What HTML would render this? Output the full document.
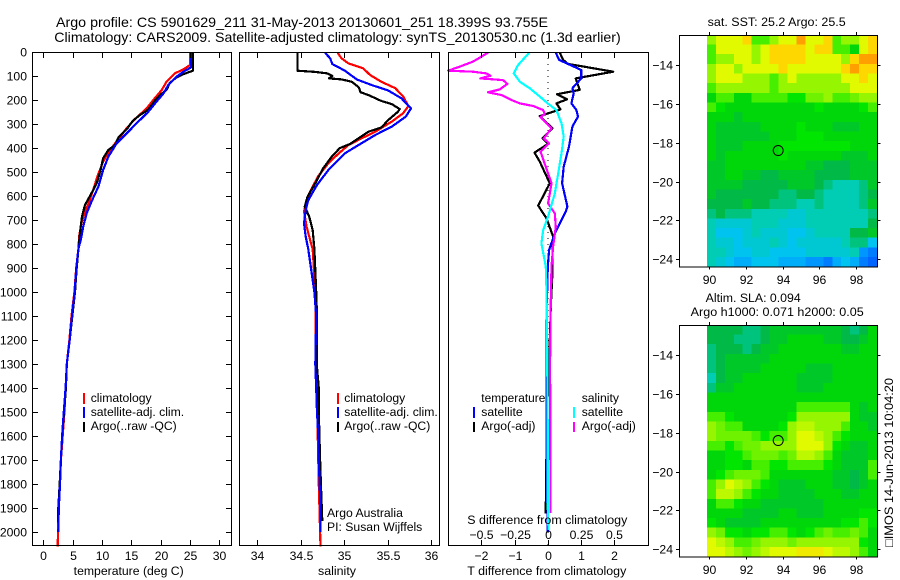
<!DOCTYPE html>
<html lang="en">
<head>
<meta charset="utf-8">
<title>Argo profile chart</title>
<style>
html,body{margin:0;padding:0;background:#fff;}
svg{display:block;}
text{font-family:"Liberation Sans",sans-serif;font-size:12.2px;fill:#000;}
.t14{font-size:14px;}
</style>
</head>
<body>
<svg id="chart" xmlns="http://www.w3.org/2000/svg" width="900" height="580" viewBox="0 0 900 580">
<defs>
<clipPath id="clip-sst"><rect x="707" y="35" width="170.5" height="231.5"/></clipPath>
<clipPath id="clip-sla"><rect x="707" y="325" width="170.5" height="231.5"/></clipPath>
</defs>
<rect width="900" height="580" fill="#fff"/>
<text class="t14" x="56" y="27" textLength="492" lengthAdjust="spacingAndGlyphs">Argo profile: CS 5901629_211 31-May-2013 20130601_251 18.399S 93.755E</text>
<text class="t14" x="54.3" y="42" textLength="566.4" lengthAdjust="spacingAndGlyphs">Climatology: CARS2009. Satellite-adjusted climatology: synTS_20130530.nc (1.3d earlier)</text>

<g id="heat-sst" clip-path="url(#clip-sst)"></g>
<g id="heat-sla" clip-path="url(#clip-sla)"></g>
<g id="marks"></g>
<g id="axes"></g>

<text x="73.7" y="575" textLength="110" lengthAdjust="spacingAndGlyphs">temperature (deg C)</text>
<text x="318" y="575" textLength="38" lengthAdjust="spacingAndGlyphs">salinity</text>
<text x="467.3" y="575" textLength="159" lengthAdjust="spacingAndGlyphs">T difference from climatology</text>
<text x="467.3" y="524" textLength="160" lengthAdjust="spacingAndGlyphs">S difference from climatology</text>

<g>
<rect x="83" y="393" width="2" height="11" fill="#f00"/>
<rect x="83" y="407" width="2" height="11" fill="#00f"/>
<rect x="83" y="422" width="2" height="10" fill="#000"/>
<text x="90.7" y="402">climatology</text>
<text x="90.7" y="416">satellite-adj. clim.</text>
<text x="90.7" y="430">Argo(..raw -QC)</text>
</g>
<g>
<rect x="337" y="393" width="2" height="11" fill="#f00"/>
<rect x="337" y="407" width="2" height="11" fill="#00f"/>
<rect x="337" y="422" width="2" height="10" fill="#000"/>
<text x="344.3" y="402">climatology</text>
<text x="344.3" y="416">satellite-adj. clim.</text>
<text x="344.3" y="430">Argo(..raw -QC)</text>
<text x="327" y="517">Argo Australia</text>
<text x="327" y="531">PI: Susan Wijffels</text>
</g>
<g>
<text x="481.3" y="402" textLength="64" lengthAdjust="spacingAndGlyphs">temperature</text>
<rect x="473" y="407" width="2" height="11" fill="#00f"/>
<rect x="473" y="422" width="2" height="10" fill="#000"/>
<text x="481.3" y="416">satellite</text>
<text x="481.3" y="430">Argo(-adj)</text>
<text x="581.7" y="402">salinity</text>
<rect x="573" y="407" width="2" height="11" fill="#0ff"/>
<rect x="573" y="422" width="2" height="10" fill="#f0f"/>
<text x="581.7" y="416">satellite</text>
<text x="581.7" y="430">Argo(-adj)</text>
</g>

<text x="707.7" y="26" textLength="138" lengthAdjust="spacingAndGlyphs">sat. SST: 25.2 Argo: 25.5</text>
<text x="705.7" y="302" textLength="95" lengthAdjust="spacingAndGlyphs">Altim. SLA: 0.094</text>
<text x="690.7" y="316" textLength="173" lengthAdjust="spacingAndGlyphs">Argo h1000: 0.071 h2000: 0.05</text>
<text transform="translate(893 547) rotate(-90)" x="0" y="0" textLength="169" lengthAdjust="spacingAndGlyphs" style="font-family:'Liberation Sans','DejaVu Sans',sans-serif">□IMOS 14-Jun-2013 10:04:20</text>

<circle id="marker-sst" r="5" fill="none" stroke="#000" stroke-width="1"/>
<circle id="marker-sla" r="5" fill="none" stroke="#000" stroke-width="1"/>
</svg>

<script>
// Axis tick data
const depthTicks = [0,100,200,300,400,500,600,700,800,900,1000,1100,1200,1300,1400,1500,1600,1700,1800,1900,2000];
const tempTicks = [0,5,10,15,20,25,30];
const salTicks = [34,34.5,35,35.5,36];
const tDiffTicks = [-2,-1,0,1,2];
const sDiffTickLabels = ['−0.5','−0.25','0','0.25','0.5'];
const lonTicks = [90,92,94,96,98];
const latTicks = [-14,-16,-18,-20,-22,-24];

// Temperature panel
const climTempDepth = [0,54,72,89,124,158,200,235,280,318,353,408,457,519,575,631,665,714,769,818,900,1000,1100,1200,1300,1400,1500,1600,1700,1800,1900,2000,2060];
const climTempValue = [25.0,25.0,23.9,22.4,21.0,20.2,18.75,17.6,15.6,14.2,13.1,11.4,10.2,9.2,8.5,7.7,7.1,6.5,6.1,6.0,5.6,5.3,4.8,4.45,4.0,3.8,3.6,3.3,3.0,2.85,2.65,2.5,2.45];
const argoTempDepth = [0,78,92,106,128,158,179,203,239,262,286,322,356,388,408,443,499,547,589,637,686,742,818,900,1000,1100,1200,1300,1400,1500,1600,1700,1800,1900,1960];
const argoTempValue = [25.5,25.5,23.9,22.7,21.6,21.0,19.9,19.0,17.9,16.5,15.3,14.2,12.8,12.2,11.1,10.2,9.7,9.1,8.2,7.1,6.6,6.3,6.0,5.7,5.4,4.95,4.5,4.0,3.85,3.55,3.2,3.0,2.8,2.55,2.5];
const satTempDepth = [0,64,82,103,137,172,207,249,297,339,381,436,492,561,624,672,728,783,818,900,1000,1100,1200,1300,1400,1500,1600,1700,1800,1900,2000];
const satTempValue = [25.2,25.2,23.9,22.7,21.3,20.5,19.3,17.9,15.9,14.2,12.5,11.1,10.2,9.4,8.2,7.4,6.8,6.4,6.0,5.63,5.35,4.9,4.5,4.0,3.8,3.5,3.2,3.0,2.85,2.65,2.55];

// Salinity panel
const climSalDepth = [3,26,47,68,96,124,151,186,225,255,290,332,360,388,429,464,519,582,631,665,728,783,822,1000,1300,1800,2060];
const climSalValue = [34.927,34.97,35.05,35.22,35.3,35.43,35.59,35.68,35.74,35.68,35.55,35.36,35.2,35.05,34.92,34.82,34.70,34.61,34.56,34.54,34.57,34.61,34.64,34.67,34.68,34.71,34.73];
const argoSalDepth = [3,78,83,89,100,110,114,124,147,168,179,204,217,238,249,283,314,332,360,383,401,436,485,547,603,644,686,742,822,1000,1100,1300,1400,1500,1700,1800,1955];
const argoSalValue = [34.464,34.464,34.667,34.81,34.866,34.828,34.973,35.09,35.17,35.19,35.28,35.43,35.55,35.64,35.62,35.51,35.43,35.28,35.165,35.07,34.95,34.86,34.76,34.67,34.58,34.55,34.6,34.64,34.66,34.68,34.69,34.686,34.71,34.71,34.725,34.735,34.75];
const satSalDepth = [3,26,50,78,114,138,161,193,235,269,311,346,388,422,492,554,617,658,714,769,822,1000,1100,1300,1400,1500,1600,1700,1800,1900,2000];
const satSalValue = [34.78,34.84,34.866,35.01,35.146,35.32,35.51,35.66,35.77,35.71,35.55,35.36,35.165,35.01,34.82,34.69,34.59,34.56,34.54,34.56,34.59,34.66,34.68,34.67,34.68,34.69,34.705,34.71,34.72,34.73,34.73];

// Difference panel: temperature differences in deg C, salinity differences in psu
const argoDTDepth = [3,33,50,58,82,110,158,176,197,214,239,267,318,360,383,419,457,547,640,693,769,825,922,1061,1200,1408,1644,1894,1922];
const argoDTValue = [0.36,0.46,0.61,0.96,1.97,0.84,0.96,0.28,0.58,0.26,0.38,-0.24,0.14,-0.16,0.01,-0.40,-0.24,0.06,-0.29,-0.04,0.16,0.14,0.14,0.09,0.06,0.0,-0.04,-0.06,-0.06];
const satDTDepth = [3,33,50,75,110,151,172,214,242,269,311,394,478,547,644,665,756,825,894,1100,1650,2000];
const satDTValue = [0.24,0.34,0.61,1.01,1.01,0.74,0.78,0.71,0.86,0.91,0.74,0.64,0.48,0.43,0.59,0.54,0.21,0.04,0.0,-0.04,-0.04,0.0];
const argoDSDepth = [3,40,61,78,82,89,99,110,117,133,156,168,179,200,214,225,242,258,272,318,360,381,415,506,547,631,672,728,811,894,1100,1300,1920];
const argoDSValue = [-0.45,-0.563,-0.663,-0.75,-0.563,-0.462,-0.432,-0.508,-0.337,-0.304,-0.362,-0.45,-0.35,-0.274,-0.21,-0.11,-0.035,-0.023,-0.055,0.028,-0.03,0.01,-0.055,0.0025,0.028,0.0025,0.053,0.06,0.04,0.028,0.02,0.017,0.02];
const satDSDepth = [3,54,89,124,151,186,214,242,297,353,422,506,589,686,742,797,894,992,1200,1617,1900,1992];
const satDSValue = [-0.14,-0.224,-0.256,-0.21,-0.136,-0.06,0.0,0.065,0.103,0.12,0.103,0.078,0.053,0.0025,-0.035,-0.048,-0.015,-0.01,-0.005,0.0,0.0,0.005];

// Satellite SST, colour-scale units (0 = coolest, 10 = warmest); rows north to south
const sstRows = [
[7,8,8,8,9,6,6,7,8,8,10,8,8,9,6,7,7,8,9],
[6,8,8,8,8,7,8,9,9,9,9,8,9,9,6,6,5,8,9],
[6,7,7,8,8,7,8,9,9,9,9,8,8,8,8,7,9,10,10],
[7,8,8,7,8,8,8,8,9,8,8,8,8,8,8,9,10,9,9],
[7,8,8,8,7,7,7,6,7,8,7,7,7,7,7,8,8,9,8],
[6,7,7,7,7,7,7,6,7,7,7,7,7,7,7,7,8,8,8],
[5,6,6,5,5,6,6,6,6,5.5,5.5,6.5,6.5,7,6,6,6.5,7,7],
[6,5.5,5,5,5,5,5,5,5,5,5,5,5.5,5,5,5,5,5.5,6],
[5,5,5,4.5,5,5,5,5,5,5,5,5,5,5,5,5,5,5,5],
[5,4.5,4.5,4.5,4.5,4.5,5,5,5,5,5.5,5,5,5,4.5,4.5,4.5,5,5],
[5,4.5,4.5,4.5,4.5,4.5,4.5,5,5,5,5.5,5.5,5.5,5,5,5,5,5,5],
[5,4.5,4.5,4.5,5,5,5,5,5.5,5.5,5.5,5.5,5.5,5.5,5.5,5.5,5,5,5],
[5,4.5,5,5,5,5,5,5,5.5,5,5,5,5,5,5,4.5,4.5,4.5,5],
[4.5,4.5,5,5,5,5,5,5,5,5,5,4.5,4.5,4,4,4,4.5,4.5,4.5],
[4.5,4.5,5,5,4.5,4.5,4,4,4.5,4.5,4.5,4.5,4,4,4,4,4.5,4.5,4.5],
[4.5,4.5,4.5,4.5,4,4,4,4,4,4.5,4.5,4.5,4,3.5,3,3,3,3.5,4.5],
[4.5,4,4,4,4,4,4,4,3.5,3.5,4,4,3.5,3,3,3,3,3.5,4],
[4,4,4,4,4.5,4,4,3.5,3.5,3.5,3,3,3.5,3,3,3,3,3.5,4.5],
[3.5,4,3.5,3.5,3.5,3,3,3,3,2.5,2.5,3,3,3,3,3,3,3,3.5],
[3,2.5,2.5,2.5,2.5,3,3,3,2.5,2.5,2.5,3,3,3,3,3,3,3,4],
[3,2,2,2,2.5,3,2.5,2.5,2.5,2,2,2.5,3,3,3,3,4,4,4.5],
[3,2.5,2.5,2,2.5,2.5,2.5,3,2.5,2,2.5,2.5,2.5,2.5,2.5,3,3.5,3.5,2],
[3,3,2.5,2,2,2.5,2.5,2,2,2,2,2.5,2.5,2.5,2.5,2.5,3,1,0.5],
[3,2.5,2,1.5,1.5,2,2,2,1.5,1.5,1.5,1,1,0.5,1.5,2,1.5,0.5,0]
];

// Altimeter SLA, colour-scale units; rows north to south
const slaRows = [
[4,4,4,4,3.5,3.5,4,4.5,4.5,4.5,4.5,4.5,4.5,4.5,4.5,4,3.5,4,5],
[4,4,4,3.5,3.5,3.5,4,4.5,4.5,5,5,5,5,4.5,4.5,4,4,4.5,5],
[3.5,4,4,4,3.5,4,4.5,4.5,5,5,5,5,5,5,5,4.5,4.5,5,5],
[3.5,4,4.5,4.5,4.5,4.5,4.5,5,5,5,5,5,5,5,5,5,5,5,5],
[3.5,4,4.5,4.5,4.5,4.5,5,5,5,5,5,4.5,4.5,4.5,5,5,5,5,5],
[3,4,4.5,4.5,5,5,5,5,5,5,4.5,4.5,4.5,4.5,5,5,5,5,5],
[3.5,4.5,4.5,5,5,5,5,5,5,5,4.5,4.5,4.5,5,5,5,5,5,5],
[5,5,5,5,5,5,5,5,5,5,5,5,5,5,5,5,5,5,5],
[5,5,5,5,5,5,5,5,5,5,6,6,6,6,6,6,5,4.5,5],
[6,6,5.5,5,5,5,5,5,5,5.5,7,7,7,7,7,7,5,4.5,4.5],
[7,6.5,6,6,5,5,5,5,5.5,7,7.5,7.5,7,7,7,6,5,5,4.5],
[7,6.5,6.5,6.5,6.5,6,5.5,6,6,7,8,8,7.5,7,6,5.5,5,5,5],
[6,6,5.5,6,6.5,6.5,7,7,7,7,8,8,8,7,5.5,5,4.5,4.5,5],
[5,5,5.5,5.5,6,6.5,6.5,6.5,6,6.5,7.5,7.5,7,6,5,4.5,4.5,4.5,5],
[5,5,5.5,5.5,5,6,6,5.5,5.5,6,6,6,6,5.5,5,4.5,4.5,4.5,6],
[5,5.5,6,6.5,6.5,6.5,6,5,5,5,5,5,5,5,4.5,4.5,4,4.5,6],
[6,7,8,7.5,7,6,5.5,5,4.5,4.5,4.5,5,5,5,4.5,4.5,4,4.5,5],
[6,7.5,7.5,7,6,5.5,5,5,4.5,4.5,4.5,4.5,5,5,5,4.5,4.5,5,5],
[5,6,6,5.5,5,5,4.5,4.5,4.5,4.5,4.5,4.5,4.5,5,5,5,5,5,5],
[5,5,5,5,4.5,4.5,4.5,4.5,5,5,4.5,4.5,4.5,5,5,5,5,5.5,5.5],
[5.5,5,4.5,4.5,4.5,4.5,5,5,5,5,5,5,5,5,5,5.5,5.5,6,5.5],
[7,6.5,5.5,5.5,5,5.5,5.5,6,6,5.5,5,5.5,6,6.5,6,6,6.5,6,5],
[8,7.5,7,6,6,6.5,7,7,7,6.5,7,7,7,7,7,7,7,5.5,5],
[8,8,7.5,7,6.5,7,7.5,8,8,8,8.5,8.5,8.5,8,7.5,7.5,7,6,5]
];

const argoLon = 93.755;
const argoLat = -18.399;

const NS = 'http://www.w3.org/2000/svg';
const marks = document.getElementById('marks');
const axes = document.getElementById('axes');

// Axis functions
const yDepth = d => 52 + 0.24 * d;
const xTemp = t => 43.3 + 5.867 * t;
const xSal = s => 257 + 87 * (s - 34);
const xDT = t => 547.8 + 33.2 * t;
const xDS = s => 547.8 + 132.8 * s;
const xLon = lon => 709.3 + 18.35 * (lon - 90);
const ySst = lat => 65.3 + 19.37 * (-14 - lat);
const ySla = lat => 355.3 + 19.37 * (-14 - lat);

function el(tag, attrs, parent) {
  const e = document.createElementNS(NS, tag);
  for (const k in attrs) e.setAttribute(k, attrs[k]);
  parent.appendChild(e);
  return e;
}

function drawSeries(name, depths, values, xFn, color) {
  const pts = depths.map((d, i) => xFn(values[i]).toFixed(1) + ',' + yDepth(d).toFixed(1)).join(' ');
  const line = el('polyline', {points: pts, fill: 'none', stroke: color, 'stroke-width': 2.2, 'shape-rendering': 'crispEdges', 'stroke-linejoin': 'round'}, marks);
  
  
}

function tick(x1, y1, x2, y2) {
  const t = el('line', {x1: x1, y1: y1, x2: x2, y2: y2, stroke: '#000', 'stroke-width': 1, 'shape-rendering': 'crispEdges'}, axes);
  
  
}

function label(x, y, str, anchor) {
  const t = el('text', {x: x, y: y, 'text-anchor': anchor}, axes);
  t.textContent = str;
  
  
}

function frame(x, y, w, h) {
  const r = el('rect', {x: x, y: y, width: w, height: h, fill: 'none', stroke: '#000', 'stroke-width': 1.4, 'shape-rendering': 'crispEdges'}, axes);
  
  
}

// Heatmap colour scale
const colourStops = [
  [0,[0,100,255]],[1,[0,150,255]],[2,[0,195,240]],[3,[0,205,180]],[4,[0,185,70]],
  [5,[0,215,10]],[5.5,[0,230,0]],[6,[70,238,0]],[7,[150,245,0]],[8,[225,250,0]],[9,[255,215,0]],[10,[255,160,0]]
];
function colour(v) {
  for (let i = 1; i < colourStops.length; i++) {
    if (v <= colourStops[i][0]) {
      const a = colourStops[i-1], b = colourStops[i];
      const f = (v - a[0]) / (b[0] - a[0]);
      const c = a[1].map((q, j) => Math.round(q + (b[1][j] - q) * f));
      return 'rgb(' + c.join(',') + ')';
    }
  }
  return 'rgb(255,160,0)';
}

const gridLon0 = 89.87, gridLonStep = 0.488, gridLat0 = -12.43, gridLatStep = 0.4987;
function drawHeat(groupId, rows, yFn, name) {
  const g = document.getElementById(groupId);
  rows.forEach((row, r) => {
    row.forEach((v, c) => {
      const x0 = xLon(gridLon0 + c * gridLonStep);
      const x1 = xLon(gridLon0 + (c + 1) * gridLonStep);
      const y0 = yFn(gridLat0 - r * gridLatStep);
      const y1 = yFn(gridLat0 - (r + 1) * gridLatStep);
      const cell = el('rect', {x: x0, y: y0, width: x1 - x0 + 0.6, height: y1 - y0 + 0.6, fill: colour(v), 'shape-rendering': 'crispEdges'}, g);
      
      
    });
  });
}

drawHeat('heat-sst', sstRows, ySst, 'sst-cell');
drawHeat('heat-sla', slaRows, ySla, 'sla-cell');

// Zero line in the difference panel
const zeroLine = el('line', {x1: xDT(0), y1: 52, x2: xDT(0), y2: 545, stroke: '#000', 'stroke-width': 1, 'stroke-dasharray': '1 5', 'shape-rendering': 'crispEdges'}, marks);



// Series
drawSeries('temperature-climatology-line', climTempDepth, climTempValue, xTemp, '#f00');
drawSeries('temperature-argo-line', argoTempDepth, argoTempValue, xTemp, '#000');
drawSeries('temperature-satellite-line', satTempDepth, satTempValue, xTemp, '#00f');
drawSeries('salinity-climatology-line', climSalDepth, climSalValue, xSal, '#f00');
drawSeries('salinity-argo-line', argoSalDepth, argoSalValue, xSal, '#000');
drawSeries('salinity-satellite-line', satSalDepth, satSalValue, xSal, '#00f');
drawSeries('t-diff-argo-line', argoDTDepth, argoDTValue, xDT, '#000');
drawSeries('t-diff-satellite-line', satDTDepth, satDTValue, xDT, '#00f');
drawSeries('s-diff-argo-line', argoDSDepth, argoDSValue, xDS, '#f0f');
drawSeries('s-diff-satellite-line', satDSDepth, satDSValue, xDS, '#0ff');

// Profile panel frames
frame(32.5, 52.5, 199, 493);
frame(239.5, 52.5, 200, 493);
frame(448.5, 52.5, 200, 493);

// Depth axis
depthTicks.forEach(d => {
  const y = Math.round(yDepth(d)) + 0.5;
  tick(32.5, y, 38, y);
  tick(226, y, 231.5, y);
  label(27, y + 4, String(d), 'end');
});
// Temperature axis
tempTicks.forEach(v => {
  const x = Math.round(xTemp(v)) + 0.5;
  tick(x, 52.5, x, 58);
  tick(x, 540, x, 545.5);
  label(x, 560, String(v), 'middle');
});
// Salinity axis
salTicks.forEach(v => {
  const x = Math.round(xSal(v)) + 0.5;
  tick(x, 52.5, x, 58);
  tick(x, 540, x, 545.5);
  label(x, 560, String(v), 'middle');
});
// Difference axes
tDiffTicks.forEach((v, i) => {
  const x = Math.round(xDT(v)) + 0.5;
  tick(x, 52.5, x, 58);
  tick(x, 540, x, 545.5);
  label(x, 560, String(v).replace('-', '−'), 'middle');
  label(x, 539, sDiffTickLabels[i], 'middle');
});

// Map frames and ticks
function mapAxes(top, bottom, yFn) {
  frame(679.5, top + 0.5, 198, bottom - top);
  lonTicks.forEach(v => {
    const x = Math.round(xLon(v)) + 0.5;
    tick(x, top - 3, x, top);
    tick(x, bottom, x, bottom + 3);
    label(x, bottom + 17.5, String(v), 'middle');
  });
  latTicks.forEach(v => {
    const y = Math.round(yFn(v)) + 0.5;
    tick(676, y, 679.5, y);
    tick(877.5, y, 880.5, y);
    label(673, y + 4, String(v).replace('-', '−'), 'end');
  });
}
mapAxes(35, 266.5, ySst);
mapAxes(325, 556.5, ySla);

// Argo float position markers
const mSst = document.getElementById('marker-sst');
mSst.setAttribute('cx', xLon(argoLon));
mSst.setAttribute('cy', ySst(argoLat));
const mSla = document.getElementById('marker-sla');
mSla.setAttribute('cx', xLon(argoLon));
mSla.setAttribute('cy', ySla(argoLat));
</script>
</body>
</html>
